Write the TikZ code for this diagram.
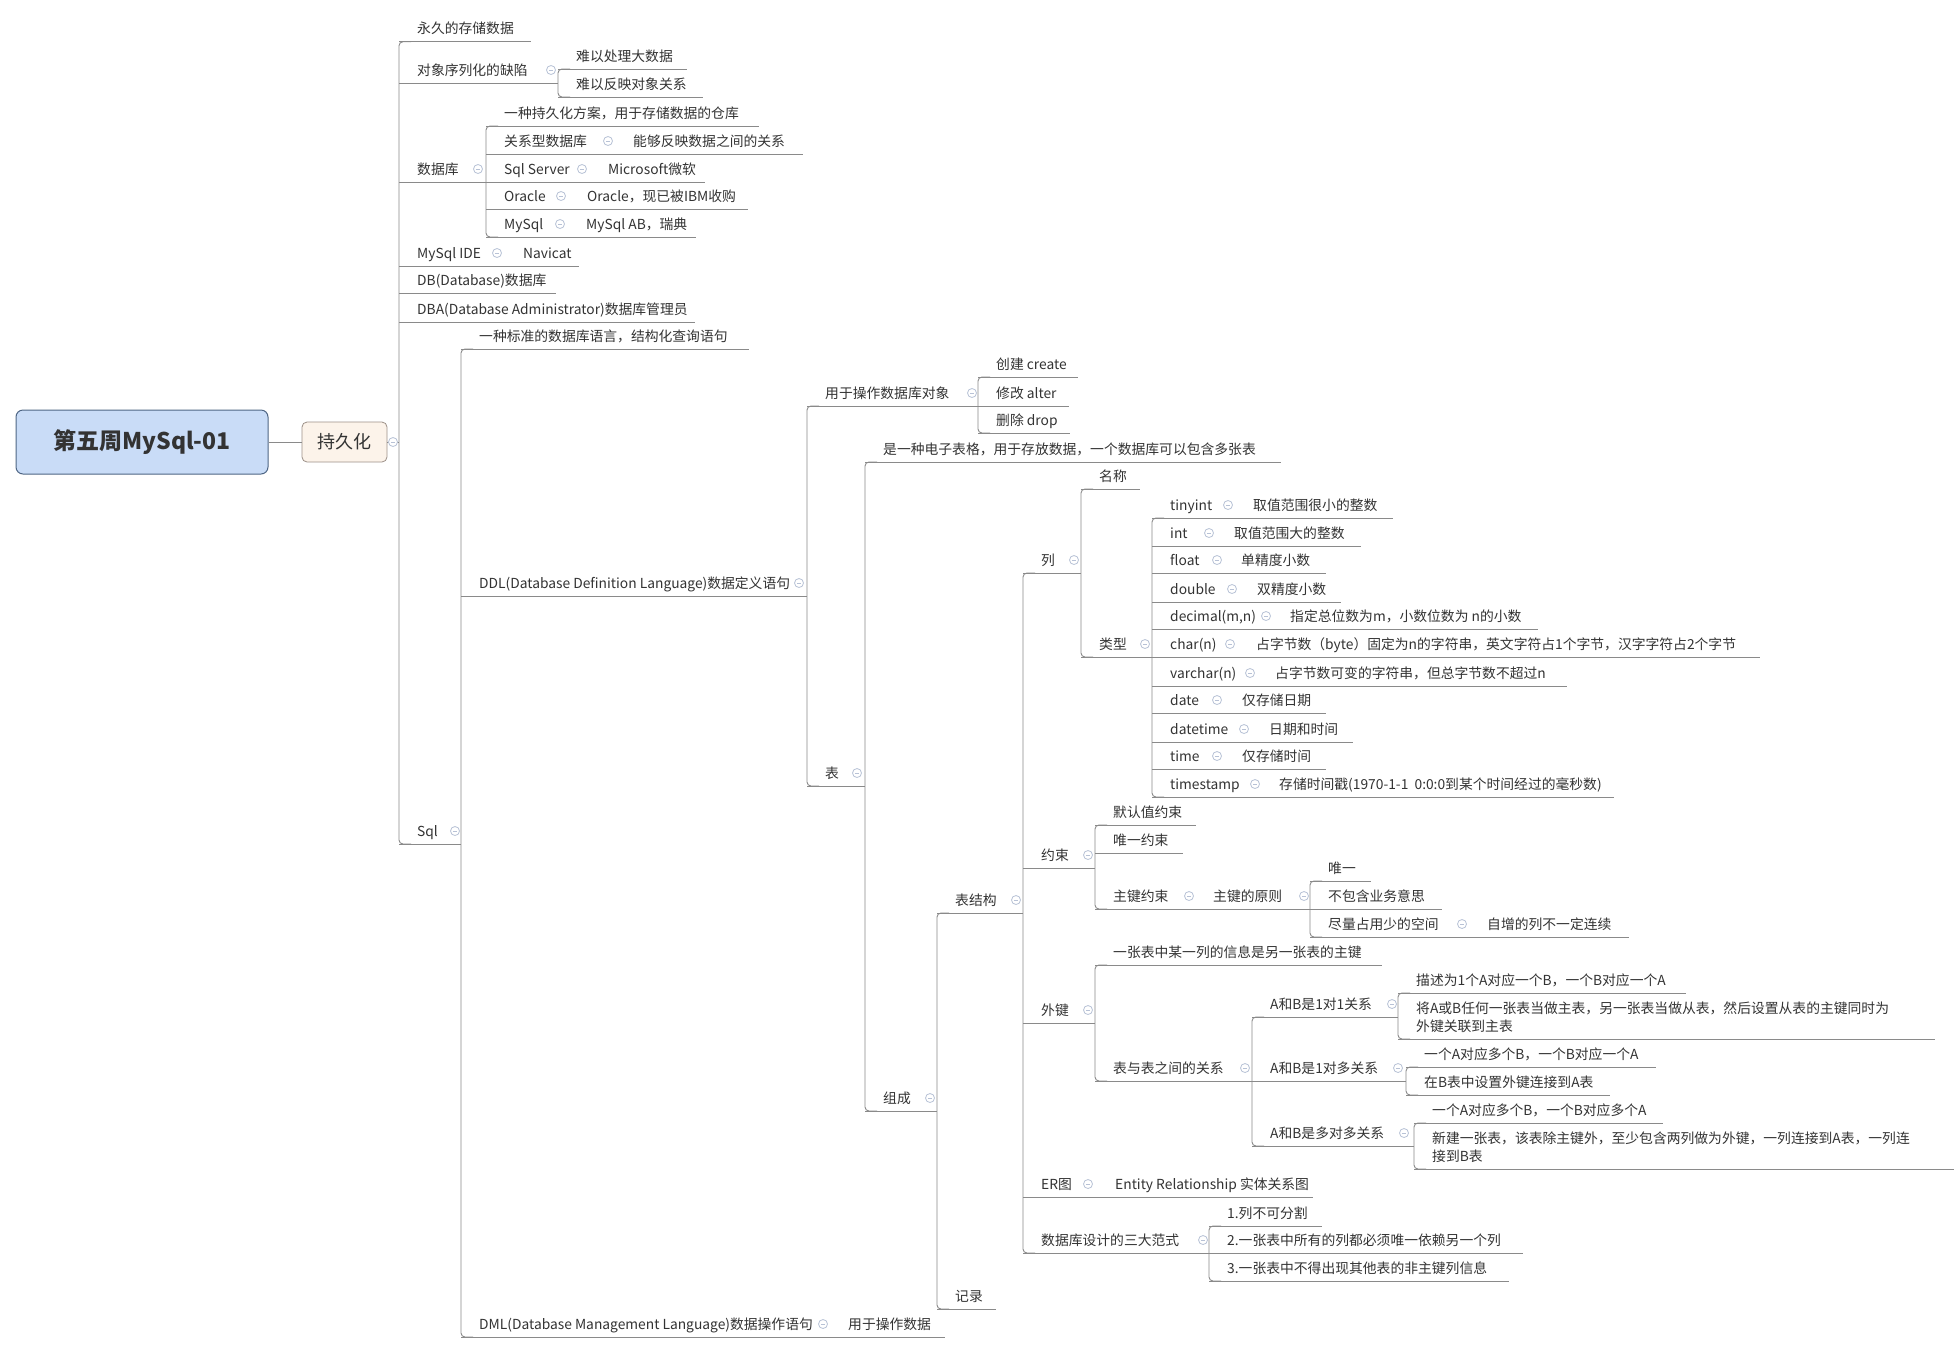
\documentclass[tikz,border=0pt]{standalone}
\usepackage{fontspec}
\setmainfont{Noto Sans CJK SC}
\definecolor{lnc}{HTML}{8A8A8A}
\definecolor{txtc}{HTML}{333333}
\definecolor{foldc}{HTML}{B8C2D6}
\definecolor{rootfill}{HTML}{C9DCF7}
\definecolor{rootdraw}{HTML}{4F6685}
\definecolor{pfill}{HTML}{FCF3EA}
\definecolor{pdraw}{HTML}{9C9088}
\tikzset{
  txt/.style={anchor=base west, inner sep=0pt, text=txtc, font=\fontsize{13.8}{16}\selectfont},
  ln/.style={draw=lnc, line width=0.9pt},
  foldm/.style={draw=foldc, line width=0.8pt, fill=white},
  rootbox/.style={draw=rootdraw, fill=rootfill, rounded corners=7pt, line width=1pt, minimum width=252pt, minimum height=64pt, text=txtc, font=\fontsize{23}{26}\selectfont\bfseries},
  pbox/.style={draw=pdraw, fill=pfill, rounded corners=5pt, line width=0.8pt, minimum width=85pt, minimum height=40pt, text=txtc, font=\fontsize{18}{20}\selectfont}
}
\newcommand\topicU[6]{\node[txt] (#1) at (#2,#3-8) {#6};\draw[ln] (#4,#3) -- (#5,#3);}
\newcommand\topicT[4]{\node[txt] (#1) at (#2,#3-8) {#4};}
\newcommand\foldmark[2]{\draw[foldm] (#1,#2-13) circle (4.5);\draw[draw=foldc, line width=0.8pt] (#1-2.2,#2-13) -- (#1+2.2,#2-13);}
\newcommand\vbranch[3]{\draw[ln, rounded corners=4pt] (#1+12,#2) -- (#1,#2) -- (#1,#3) -- (#1+12,#3);}
\begin{document}
\begin{tikzpicture}[x=1pt,y=-1pt]
\useasboundingbox[fill=white] (0,0) rectangle (1954,1353);
% root and first level
\node[rootbox] (root) at (142,442) {第五周MySql-01};
\node[pbox] (cjh) at (344.5,442) {持久化};
\draw[ln] (root.east) -- (cjh.west);
\coordinate (cjhj) at (399,442);
\draw[ln] (cjh.east) -- (cjhj);
\foldmark{393}{455}
\vbranch{399}{41.7}{844}
% persistence children
\topicU{p1}{417}{41.7}{399}{531}{永久的存储数据}
\topicU{p2}{417}{83}{399}{558}{对象序列化的缺陷}\foldmark{551}{83}
\vbranch{558}{69}{97}
\topicU{p2a}{576}{69}{558}{687}{难以处理大数据}
\topicU{p2b}{576}{97}{558}{703}{难以反映对象关系}
\topicU{p3}{417}{182}{399}{486}{数据库}\foldmark{478}{182}
\vbranch{486}{126}{237}
\topicU{p3a}{504}{126}{486}{759}{一种持久化方案，用于存储数据的仓库}
\topicU{p3b}{504}{154}{486}{803}{关系型数据库}\foldmark{608}{154}
\topicT{p3bc}{633}{154}{能够反映数据之间的关系}
\topicU{p3c}{504}{182}{486}{705}{Sql Server}\foldmark{582}{182}
\topicT{p3cc}{608}{182}{Microsoft微软}
\topicU{p3d}{504}{209}{486}{748}{Oracle}\foldmark{561}{209}
\topicT{p3dc}{587}{209}{Oracle，现已被IBM收购}
\topicU{p3e}{504}{237}{486}{696}{MySql}\foldmark{560}{237}
\topicT{p3ec}{586}{237}{MySql AB，瑞典}
\topicU{p4}{417}{266}{399}{579}{MySql IDE}\foldmark{497}{266}
\topicT{p4c}{523}{266}{Navicat}
\topicU{p5}{417}{293}{399}{556}{DB(Database)数据库}
\topicU{p6}{417}{322}{399}{695}{DBA(Database Administrator)数据库管理员}
\topicU{sql}{417}{844}{399}{461}{Sql}\foldmark{455}{844}
% Sql
\vbranch{461}{349}{1337}
\topicU{s1}{479}{349}{461}{749}{一种标准的数据库语言，结构化查询语句}
\topicU{ddl}{479}{596}{461}{807}{DDL(Database Definition Language)数据定义语句}\foldmark{799}{596}
\vbranch{807}{406}{786}
\topicU{d1}{825}{406}{807}{978}{用于操作数据库对象}\foldmark{972}{406}
\vbranch{978}{377}{433}
\topicU{d1a}{996}{377}{978}{1078}{创建 create}
\topicU{d1b}{996}{406}{978}{1069}{修改 alter}
\topicU{d1c}{996}{433}{978}{1070}{删除 drop}
\topicU{tb}{825}{786}{807}{865}{表}\foldmark{857}{786}
\vbranch{865}{462}{1111}
\topicU{t1}{883}{462}{865}{1281}{是一种电子表格，用于存放数据，一个数据库可以包含多张表}
\topicU{zc}{883}{1111}{865}{937}{组成}\foldmark{930}{1111}
\vbranch{937}{913}{1309}
\topicU{jg}{955}{913}{937}{1023}{表结构}\foldmark{1016}{913}
\vbranch{1023}{573}{1253}
% columns
\topicU{lie}{1041}{573}{1023}{1081}{列}\foldmark{1074}{573}
\vbranch{1081}{489}{657}
\topicU{mc}{1099}{489}{1081}{1140}{名称}
\topicU{lx}{1099}{657}{1081}{1152}{类型}\foldmark{1145}{657}
\vbranch{1152}{518}{797}
\topicU{ty1}{1170}{518}{1152}{1393}{tinyint}\foldmark{1228}{518}
\topicT{ty1c}{1253}{518}{取值范围很小的整数}
\topicU{ty2}{1170}{546}{1152}{1361}{int}\foldmark{1209}{546}
\topicT{ty2c}{1234}{546}{取值范围大的整数}
\topicU{ty3}{1170}{573}{1152}{1326}{float}\foldmark{1217}{573}
\topicT{ty3c}{1241}{573}{单精度小数}
\topicU{ty4}{1170}{602}{1152}{1341}{double}\foldmark{1232}{602}
\topicT{ty4c}{1257}{602}{双精度小数}
\topicU{ty5}{1170}{629}{1152}{1538}{decimal(m,n)}\foldmark{1266}{629}
\topicT{ty5c}{1290}{629}{指定总位数为m，小数位数为 n的小数}
\topicU{ty6}{1170}{657}{1152}{1760}{char(n)}\foldmark{1230}{657}
\topicT{ty6c}{1256}{657}{占字节数（byte）固定为n的字符串，英文字符占1个字节，汉字字符占2个字节}
\topicU{ty7}{1170}{686}{1152}{1567}{varchar(n)}\foldmark{1250}{686}
\topicT{ty7c}{1275}{686}{占字节数可变的字符串，但总字节数不超过n}
\topicU{ty8}{1170}{713}{1152}{1326}{date}\foldmark{1217}{713}
\topicT{ty8c}{1242}{713}{仅存储日期}
\topicU{ty9}{1170}{742}{1152}{1353}{datetime}\foldmark{1244}{742}
\topicT{ty9c}{1269}{742}{日期和时间}
\topicU{ty10}{1170}{769}{1152}{1326}{time}\foldmark{1217}{769}
\topicT{ty10c}{1242}{769}{仅存储时间}
\topicU{ty11}{1170}{797}{1152}{1614}{timestamp}\foldmark{1255}{797}
\topicT{ty11c}{1279}{797}{存储时间戳(1970-1-1\ \ 0:0:0到某个时间经过的毫秒数)}
% constraints
\topicU{ys}{1041}{868}{1023}{1095}{约束}\foldmark{1088}{868}
\vbranch{1095}{825}{909}
\topicU{ys1}{1113}{825}{1095}{1196}{默认值约束}
\topicU{ys2}{1113}{853}{1095}{1183}{唯一约束}
\topicU{ys3}{1113}{909}{1095}{1310}{主键约束}\foldmark{1189}{909}
\topicT{ys3c}{1213}{909}{主键的原则}\foldmark{1304}{909}
\vbranch{1310}{881}{937}
\topicU{pk1}{1328}{881}{1310}{1371}{唯一}
\topicU{pk2}{1328}{909}{1310}{1442}{不包含业务意思}
\topicU{pk3}{1328}{937}{1310}{1629}{尽量占用少的空间}\foldmark{1462}{937}
\topicT{pk3c}{1487}{937}{自增的列不一定连续}
% foreign keys
\topicU{wj}{1041}{1023}{1023}{1095}{外键}\foldmark{1088}{1023}
\vbranch{1095}{965}{1081}
\topicU{wj1}{1113}{965}{1095}{1382}{一张表中某一列的信息是另一张表的主键}
\topicU{wj2}{1113}{1081}{1095}{1252}{表与表之间的关系}\foldmark{1245}{1081}
\vbranch{1252}{1017}{1146}
\topicU{r1}{1270}{1017}{1252}{1398}{A和B是1对1关系}\foldmark{1392}{1017}
\vbranch{1398}{993}{1039}
\topicU{r1a}{1416}{993}{1398}{1686}{描述为1个A对应一个B，一个B对应一个A}
\topicU{r1b}{1416}{1021}{1398}{1398}{将A或B任何一张表当做主表，另一张表当做从表，然后设置从表的主键同时为}
\topicU{r1bb}{1416}{1039}{1398}{1935}{外键关联到主表}
\topicU{r2}{1270}{1081}{1252}{1406}{A和B是1对多关系}\foldmark{1398}{1081}
\vbranch{1406}{1067}{1095}
\topicU{r2a}{1424}{1067}{1406}{1656}{一个A对应多个B，一个B对应一个A}
\topicU{r2b}{1424}{1095}{1406}{1610}{在B表中设置外键连接到A表}
\topicU{r3}{1270}{1146}{1252}{1414}{A和B是多对多关系}\foldmark{1404}{1146}
\vbranch{1414}{1123}{1169}
\topicU{r3a}{1432}{1123}{1414}{1663}{一个A对应多个B，一个B对应多个A}
\topicU{r3b}{1432}{1151}{1414}{1414}{新建一张表，该表除主键外，至少包含两列做为外键，一列连接到A表，一列连}
\topicU{r3bb}{1432}{1169}{1414}{1954}{接到B表}
% ER and normal forms
\topicU{er}{1041}{1197}{1023}{1313}{ER图}\foldmark{1088}{1197}
\topicT{erc}{1115}{1197}{Entity Relationship 实体关系图}
\topicU{fs}{1041}{1253}{1023}{1209}{数据库设计的三大范式}\foldmark{1203}{1253}
\vbranch{1209}{1226}{1281}
\topicU{fs1}{1227}{1226}{1209}{1322}{1.列不可分割}
\topicU{fs2}{1227}{1253}{1209}{1523}{2.一张表中所有的列都必须唯一依赖另一个列}
\topicU{fs3}{1227}{1281}{1209}{1509}{3.一张表中不得出现其他表的非主键列信息}
\topicU{jl}{955}{1309}{937}{996}{记录}
\topicU{dml}{479}{1337}{461}{945}{DML(Database Management Language)数据操作语句}\foldmark{823}{1337}
\topicT{dmlc}{848}{1337}{用于操作数据}
\end{tikzpicture}
\end{document}
